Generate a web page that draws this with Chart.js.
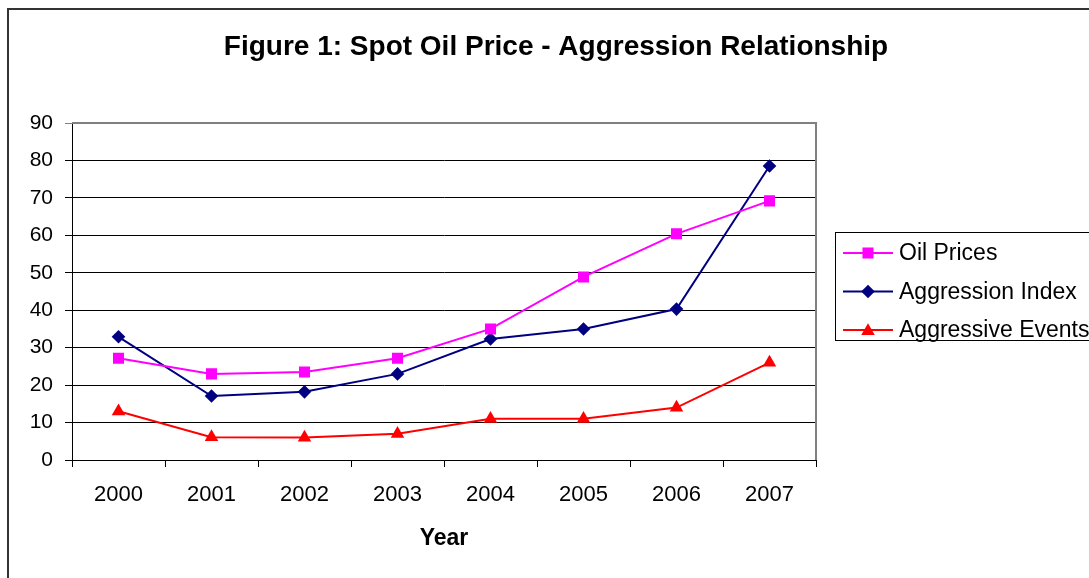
<!DOCTYPE html>
<html>
<head>
<meta charset="utf-8">
<script src="https://cdn.jsdelivr.net/npm/chart.js@4/dist/chart.umd.min.js"></script>
<style>
  html, body { margin: 0; padding: 0; background: #fff; }
  canvas { display: block; }
</style>
</head>
<body>
<canvas id="myChart" width="1089" height="578"></canvas>
<script>
const years = ['2000', '2001', '2002', '2003', '2004', '2005', '2006', '2007'];
const oilPrices = [27.2, 23, 23.5, 27.2, 35, 48.9, 60.4, 69.2];
const aggressionIndex = [32.9, 17.1, 18.2, 23, 32.3, 35, 40.3, 78.5];
const aggressiveEvents = [13, 6.1, 6, 7, 11, 11, 14, 26];
const yTicks = [0, 10, 20, 30, 40, 50, 60, 70, 80, 90];

const chartTitle = 'Figure 1: Spot Oil Price - Aggression Relationship';
const FONT = 'Arial, "Liberation Sans", Helvetica, sans-serif';

// frame, title and the boxed legend on the right
const decorations = {
  id: 'decorations',
  beforeDraw(chart) {
    const c = chart.ctx;
    c.save();
    c.fillStyle = '#fff';
    c.fillRect(0, 0, chart.width, chart.height);
    c.restore();
  },
  afterDraw(chart) {
    const c = chart.ctx;
    const area = chart.chartArea;
    c.save();
    // plot area border (gray, top and right)
    c.strokeStyle = '#808080';
    c.lineWidth = 2;
    c.beginPath();
    c.moveTo(area.left, area.top);
    c.lineTo(area.right, area.top);
    c.lineTo(area.right, area.bottom);
    c.stroke();

    // outer chart frame
    c.strokeStyle = '#333';
    c.lineWidth = 2;
    c.strokeRect(8, 9, 1300, 800);

    // title
    c.fillStyle = '#000';
    c.font = 'bold 28px ' + FONT;
    c.textAlign = 'center';
    c.textBaseline = 'middle';
    c.fillText(chartTitle, 556, 47);

    // legend
    c.strokeStyle = '#000';
    c.lineWidth = 1;
    c.strokeRect(835.5, 232.5, 400, 108);
    c.textAlign = 'left';
    c.font = '23px ' + FONT;
    chart.data.datasets.forEach((ds, i) => {
      const y = 253 + i * 38.5;
      c.strokeStyle = ds.borderColor;
      c.lineWidth = 2;
      c.beginPath();
      c.moveTo(843, y);
      c.lineTo(893, y);
      c.stroke();
      c.fillStyle = ds.pointBackgroundColor;
      c.strokeStyle = ds.pointBackgroundColor;
      Chart.helpers.drawPoint(c, {
        pointStyle: ds.pointStyle,
        radius: ds.pointRadius,
        rotation: 0,
        borderWidth: 0
      }, 868, ds.pointStyle === 'triangle' ? y + 1 : y);
      c.fillStyle = '#000';
      c.fillText(ds.label, 899, y + 1);
    });
    c.restore();
  }
};

const ctx = document.getElementById('myChart');

const myChart = new Chart(ctx, {
  type: 'line',
  data: {
    labels: years,
    datasets: [
      {
        label: 'Oil Prices',
        data: oilPrices,
        borderColor: '#FF00FF',
        backgroundColor: '#FF00FF',
        pointBackgroundColor: '#FF00FF',
        pointBorderWidth: 0,
        pointStyle: 'rect',
        pointRadius: 7.8,
        borderWidth: 2,
        tension: 0
      },
      {
        label: 'Aggression Index',
        data: aggressionIndex,
        borderColor: '#000080',
        backgroundColor: '#000080',
        pointBackgroundColor: '#000080',
        pointBorderWidth: 0,
        pointStyle: 'rectRot',
        pointRadius: 6.8,
        borderWidth: 2,
        tension: 0
      },
      {
        label: 'Aggressive Events',
        data: aggressiveEvents,
        borderColor: '#FF0000',
        backgroundColor: '#FF0000',
        pointBackgroundColor: '#FF0000',
        pointBorderWidth: 0,
        pointStyle: 'triangle',
        pointRadius: 7.8,
        borderWidth: 2,
        tension: 0
      }
    ]
  },
  options: {
    responsive: false,
    animation: false,
    layout: { padding: { top: 123, right: 273, left: 0, bottom: 0 } },
    plugins: {
      legend: { display: false },
      title: { display: false },
      tooltip: { enabled: false }
    },
    scales: {
      x: {
        offset: true,
        grid: { offset: true, drawOnChartArea: false, drawTicks: true, tickLength: 7, color: '#000', lineWidth: 1 },
        border: { color: '#000', width: 1 },
        ticks: { color: '#000', font: { family: FONT, size: 22 }, padding: 15, maxRotation: 0 },
        title: {
          display: true,
          text: 'Year',
          color: '#000',
          font: { family: FONT, size: 23, weight: 'bold' },
          padding: { top: 26, bottom: 26 }
        },
        afterFit(scale) { scale.height = 118; }
      },
      y: {
        min: 0,
        max: 90,
        afterBuildTicks(scale) { scale.ticks = yTicks.map(v => ({ value: v })); },
        grid: {
          color: (c) => c.tick && c.tick.value === 90 ? '#808080' : '#000',
          lineWidth: 1,
          tickLength: 7
        },
        border: { color: '#000', width: 1 },
        ticks: { color: '#000', font: { family: FONT, size: 21 }, padding: 12 },
        afterFit(scale) { scale.width = 72; }
      }
    }
  },
  plugins: [decorations]
});
</script>
</body>
</html>
